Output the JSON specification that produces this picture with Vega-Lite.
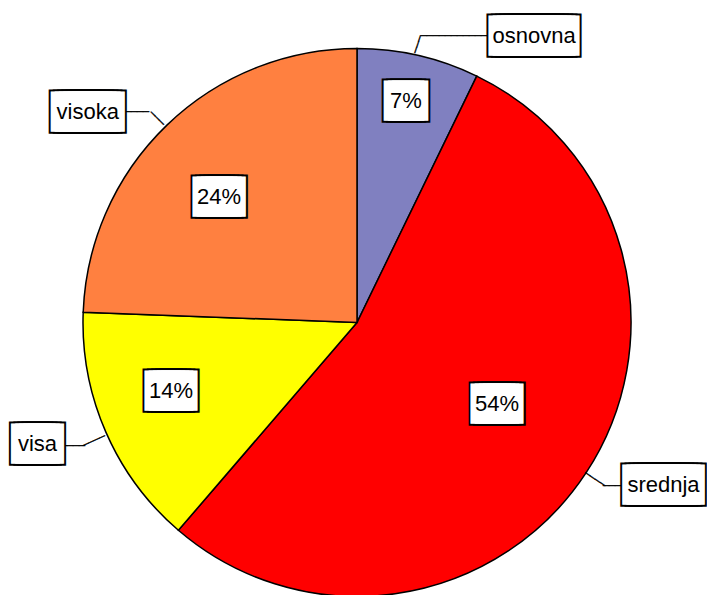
{
  "$schema": "https://vega.github.io/schema/vega-lite/v6.json",
  "width": 700,
  "height": 545,
  "autosize": "none",
  "padding": {"left": 7, "top": 50, "right": 0, "bottom": 0},
  "background": "white",
  "view": {"stroke": null},
  "data": {
    "values": [
      {"category": "osnovna", "share": 0.072},
      {"category": "srednja", "share": 0.541},
      {"category": "visa", "share": 0.143},
      {"category": "visoka", "share": 0.244}
    ]
  },
  "encoding": {
    "theta": {"field": "share", "type": "quantitative", "stack": true},
    "order": {"field": "category", "sort": "ascending"}
  },
  "layer": [
    {
      "mark": {"type": "arc", "outerRadius": 274, "stroke": "black", "strokeWidth": 1.5},
      "encoding": {
        "color": {
          "field": "category", "type": "nominal", "legend": null,
          "scale": {"domain": ["osnovna", "srednja", "visa", "visoka"], "range": ["#8080C0", "#FF0000", "#FFFF00", "#FF8040"]}
        }
      }
    },
    {
      "mark": {"type": "text", "font": "DejaVu Sans Mono", "fontSize": 10, "fill": "black", "stroke": "black", "strokeWidth": 0.4, "align": "center", "baseline": "middle", "radius": 303.9, "thetaOffset": 0.109, "angle": 0},
      "encoding": {"text": {"value": "────────────"}, "opacity": {"condition": {"test": "datum.category === 'osnovna'", "value": 1}, "value": 0}}
    },
    {
      "mark": {"type": "text", "font": "DejaVu Sans Mono", "fontSize": 10, "fill": "black", "stroke": "black", "strokeWidth": 0.4, "align": "center", "baseline": "middle", "radius": 284.6, "thetaOffset": -0.0101, "angle": -71.6},
      "encoding": {"text": {"value": "───"}, "opacity": {"condition": {"test": "datum.category === 'osnovna'", "value": 1}, "value": 0}}
    },
    {
      "mark": {"type": "text", "font": "DejaVu Sans Mono", "fontSize": 10, "fill": "black", "stroke": "black", "strokeWidth": 0.4, "align": "center", "baseline": "middle", "radius": 304.8, "thetaOffset": -0.0398, "angle": 0},
      "encoding": {"text": {"value": "────"}, "opacity": {"condition": {"test": "datum.category === 'visoka'", "value": 1}, "value": 0}}
    },
    {
      "mark": {"type": "text", "font": "DejaVu Sans Mono", "fontSize": 10, "fill": "black", "stroke": "black", "strokeWidth": 0.4, "align": "center", "baseline": "middle", "radius": 285.7, "thetaOffset": -0.0089, "angle": 45},
      "encoding": {"text": {"value": "───"}, "opacity": {"condition": {"test": "datum.category === 'visoka'", "value": 1}, "value": 0}}
    },
    {
      "mark": {"type": "text", "font": "DejaVu Sans Mono", "fontSize": 10, "fill": "black", "stroke": "black", "strokeWidth": 0.4, "align": "center", "baseline": "middle", "radius": 309.5, "thetaOffset": 0.0028, "angle": 0},
      "encoding": {"text": {"value": "────"}, "opacity": {"condition": {"test": "datum.category === 'visa'", "value": 1}, "value": 0}}
    },
    {
      "mark": {"type": "text", "font": "DejaVu Sans Mono", "fontSize": 10, "fill": "black", "stroke": "black", "strokeWidth": 0.4, "align": "center", "baseline": "middle", "radius": 288.5, "thetaOffset": -0.0117, "angle": -24.2},
      "encoding": {"text": {"value": "────"}, "opacity": {"condition": {"test": "datum.category === 'visa'", "value": 1}, "value": 0}}
    },
    {
      "mark": {"type": "text", "font": "DejaVu Sans Mono", "fontSize": 10, "fill": "black", "stroke": "black", "strokeWidth": 0.4, "align": "center", "baseline": "middle", "radius": 302.6, "thetaOffset": -0.0122, "angle": 0},
      "encoding": {"text": {"value": "───"}, "opacity": {"condition": {"test": "datum.category === 'srednja'", "value": 1}, "value": 0}}
    },
    {
      "mark": {"type": "text", "font": "DejaVu Sans Mono", "fontSize": 10, "fill": "black", "stroke": "black", "strokeWidth": 0.4, "align": "center", "baseline": "middle", "radius": 285.1, "thetaOffset": 0.002, "angle": 33.7},
      "encoding": {"text": {"value": "────"}, "opacity": {"condition": {"test": "datum.category === 'srednja'", "value": 1}, "value": 0}}
    },
    {
      "mark": {"type": "text", "font": "DejaVu Sans Mono", "fontSize": 7, "fill": "black", "stroke": "black", "strokeWidth": 36, "strokeJoin": "miter", "align": "center", "baseline": "middle", "radius": 227, "thetaOffset": -0.0086},
      "encoding": {"text": {"value": "███"}, "opacity": {"condition": {"test": "datum.category === 'osnovna'", "value": 1}, "value": 0}}
    },
    {
      "mark": {"type": "text", "font": "DejaVu Sans Mono", "fontSize": 7, "fill": "white", "stroke": "white", "strokeWidth": 32, "strokeJoin": "miter", "align": "center", "baseline": "middle", "radius": 227, "thetaOffset": -0.0086},
      "encoding": {"text": {"value": "███"}, "opacity": {"condition": {"test": "datum.category === 'osnovna'", "value": 1}, "value": 0}}
    },
    {
      "mark": {"type": "text", "font": "Liberation Sans", "fontSize": 22, "fill": "black", "align": "center", "baseline": "middle", "radius": 227, "thetaOffset": -0.0086},
      "encoding": {"text": {"field": "share", "type": "quantitative", "format": ".0%"}, "opacity": {"condition": {"test": "datum.category === 'osnovna'", "value": 1}, "value": 0}}
    },
    {
      "mark": {"type": "text", "font": "DejaVu Sans Mono", "fontSize": 7, "fill": "black", "stroke": "black", "strokeWidth": 36, "strokeJoin": "miter", "align": "center", "baseline": "middle", "radius": 162, "thetaOffset": -0.054},
      "encoding": {"text": {"value": "█████"}, "opacity": {"condition": {"test": "datum.category === 'srednja'", "value": 1}, "value": 0}}
    },
    {
      "mark": {"type": "text", "font": "DejaVu Sans Mono", "fontSize": 7, "fill": "white", "stroke": "white", "strokeWidth": 32, "strokeJoin": "miter", "align": "center", "baseline": "middle", "radius": 162, "thetaOffset": -0.054},
      "encoding": {"text": {"value": "█████"}, "opacity": {"condition": {"test": "datum.category === 'srednja'", "value": 1}, "value": 0}}
    },
    {
      "mark": {"type": "text", "font": "Liberation Sans", "fontSize": 22, "fill": "black", "align": "center", "baseline": "middle", "radius": 162, "thetaOffset": -0.054},
      "encoding": {"text": {"field": "share", "type": "quantitative", "format": ".0%"}, "opacity": {"condition": {"test": "datum.category === 'srednja'", "value": 1}, "value": 0}}
    },
    {
      "mark": {"type": "text", "font": "DejaVu Sans Mono", "fontSize": 7, "fill": "black", "stroke": "black", "strokeWidth": 36, "strokeJoin": "miter", "align": "center", "baseline": "middle", "radius": 198.4, "thetaOffset": 0.0564},
      "encoding": {"text": {"value": "█████"}, "opacity": {"condition": {"test": "datum.category === 'visa'", "value": 1}, "value": 0}}
    },
    {
      "mark": {"type": "text", "font": "DejaVu Sans Mono", "fontSize": 7, "fill": "white", "stroke": "white", "strokeWidth": 32, "strokeJoin": "miter", "align": "center", "baseline": "middle", "radius": 198.4, "thetaOffset": 0.0564},
      "encoding": {"text": {"value": "█████"}, "opacity": {"condition": {"test": "datum.category === 'visa'", "value": 1}, "value": 0}}
    },
    {
      "mark": {"type": "text", "font": "Liberation Sans", "fontSize": 22, "fill": "black", "align": "center", "baseline": "middle", "radius": 198.4, "thetaOffset": 0.0564},
      "encoding": {"text": {"field": "share", "type": "quantitative", "format": ".0%"}, "opacity": {"condition": {"test": "datum.category === 'visa'", "value": 1}, "value": 0}}
    },
    {
      "mark": {"type": "text", "font": "DejaVu Sans Mono", "fontSize": 7, "fill": "black", "stroke": "black", "strokeWidth": 36, "strokeJoin": "miter", "align": "center", "baseline": "middle", "radius": 186.2, "thetaOffset": -0.0677},
      "encoding": {"text": {"value": "█████"}, "opacity": {"condition": {"test": "datum.category === 'visoka'", "value": 1}, "value": 0}}
    },
    {
      "mark": {"type": "text", "font": "DejaVu Sans Mono", "fontSize": 7, "fill": "white", "stroke": "white", "strokeWidth": 32, "strokeJoin": "miter", "align": "center", "baseline": "middle", "radius": 186.2, "thetaOffset": -0.0677},
      "encoding": {"text": {"value": "█████"}, "opacity": {"condition": {"test": "datum.category === 'visoka'", "value": 1}, "value": 0}}
    },
    {
      "mark": {"type": "text", "font": "Liberation Sans", "fontSize": 22, "fill": "black", "align": "center", "baseline": "middle", "radius": 186.2, "thetaOffset": -0.0677},
      "encoding": {"text": {"field": "share", "type": "quantitative", "format": ".0%"}, "opacity": {"condition": {"test": "datum.category === 'visoka'", "value": 1}, "value": 0}}
    },
    {
      "mark": {"type": "text", "font": "DejaVu Sans Mono", "fontSize": 7, "fill": "black", "stroke": "black", "strokeWidth": 36, "strokeJoin": "miter", "align": "center", "baseline": "middle", "radius": 337, "thetaOffset": 0.327},
      "encoding": {"text": {"value": "██████████████"}, "opacity": {"condition": {"test": "datum.category === 'osnovna'", "value": 1}, "value": 0}}
    },
    {
      "mark": {"type": "text", "font": "DejaVu Sans Mono", "fontSize": 7, "fill": "white", "stroke": "white", "strokeWidth": 32, "strokeJoin": "miter", "align": "center", "baseline": "middle", "radius": 337, "thetaOffset": 0.327},
      "encoding": {"text": {"value": "██████████████"}, "opacity": {"condition": {"test": "datum.category === 'osnovna'", "value": 1}, "value": 0}}
    },
    {
      "mark": {"type": "text", "font": "Liberation Sans", "fontSize": 22, "fill": "black", "align": "center", "baseline": "middle", "radius": 337, "thetaOffset": 0.327},
      "encoding": {"text": {"field": "category", "type": "nominal"}, "opacity": {"condition": {"test": "datum.category === 'osnovna'", "value": 1}, "value": 0}}
    },
    {
      "mark": {"type": "text", "font": "DejaVu Sans Mono", "fontSize": 7, "fill": "black", "stroke": "black", "strokeWidth": 36, "strokeJoin": "miter", "align": "center", "baseline": "middle", "radius": 347, "thetaOffset": -0.093},
      "encoding": {"text": {"value": "████████████"}, "opacity": {"condition": {"test": "datum.category === 'srednja'", "value": 1}, "value": 0}}
    },
    {
      "mark": {"type": "text", "font": "DejaVu Sans Mono", "fontSize": 7, "fill": "white", "stroke": "white", "strokeWidth": 32, "strokeJoin": "miter", "align": "center", "baseline": "middle", "radius": 347, "thetaOffset": -0.093},
      "encoding": {"text": {"value": "████████████"}, "opacity": {"condition": {"test": "datum.category === 'srednja'", "value": 1}, "value": 0}}
    },
    {
      "mark": {"type": "text", "font": "Liberation Sans", "fontSize": 22, "fill": "black", "align": "center", "baseline": "middle", "radius": 347, "thetaOffset": -0.093},
      "encoding": {"text": {"field": "category", "type": "nominal"}, "opacity": {"condition": {"test": "datum.category === 'srednja'", "value": 1}, "value": 0}}
    },
    {
      "mark": {"type": "text", "font": "DejaVu Sans Mono", "fontSize": 7, "fill": "black", "stroke": "black", "strokeWidth": 36, "strokeJoin": "miter", "align": "center", "baseline": "middle", "radius": 342, "thetaOffset": 0.047},
      "encoding": {"text": {"value": "█████"}, "opacity": {"condition": {"test": "datum.category === 'visa'", "value": 1}, "value": 0}}
    },
    {
      "mark": {"type": "text", "font": "DejaVu Sans Mono", "fontSize": 7, "fill": "white", "stroke": "white", "strokeWidth": 32, "strokeJoin": "miter", "align": "center", "baseline": "middle", "radius": 342, "thetaOffset": 0.047},
      "encoding": {"text": {"value": "█████"}, "opacity": {"condition": {"test": "datum.category === 'visa'", "value": 1}, "value": 0}}
    },
    {
      "mark": {"type": "text", "font": "Liberation Sans", "fontSize": 22, "fill": "black", "align": "center", "baseline": "middle", "radius": 342, "thetaOffset": 0.047},
      "encoding": {"text": {"field": "category", "type": "nominal"}, "opacity": {"condition": {"test": "datum.category === 'visa'", "value": 1}, "value": 0}}
    },
    {
      "mark": {"type": "text", "font": "DejaVu Sans Mono", "fontSize": 7, "fill": "black", "stroke": "black", "strokeWidth": 36, "strokeJoin": "miter", "align": "center", "baseline": "middle", "radius": 342, "thetaOffset": -0.14},
      "encoding": {"text": {"value": "██████████"}, "opacity": {"condition": {"test": "datum.category === 'visoka'", "value": 1}, "value": 0}}
    },
    {
      "mark": {"type": "text", "font": "DejaVu Sans Mono", "fontSize": 7, "fill": "white", "stroke": "white", "strokeWidth": 32, "strokeJoin": "miter", "align": "center", "baseline": "middle", "radius": 342, "thetaOffset": -0.14},
      "encoding": {"text": {"value": "██████████"}, "opacity": {"condition": {"test": "datum.category === 'visoka'", "value": 1}, "value": 0}}
    },
    {
      "mark": {"type": "text", "font": "Liberation Sans", "fontSize": 22, "fill": "black", "align": "center", "baseline": "middle", "radius": 342, "thetaOffset": -0.14},
      "encoding": {"text": {"field": "category", "type": "nominal"}, "opacity": {"condition": {"test": "datum.category === 'visoka'", "value": 1}, "value": 0}}
    }
  ]
}
